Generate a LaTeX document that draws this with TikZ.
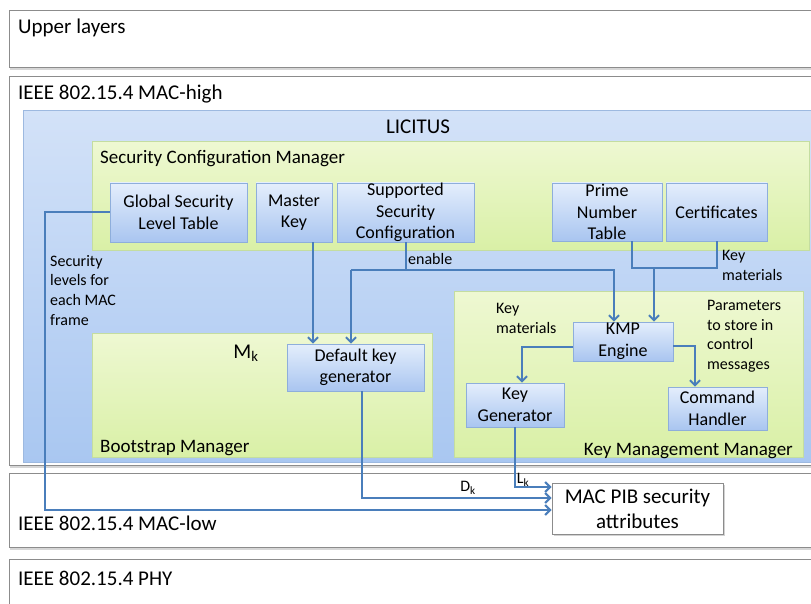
\documentclass[tikz,border=0pt]{standalone}
\usepackage{fontspec}
\setmainfont{Carlito}
\usetikzlibrary{arrows.meta,shadows}
\definecolor{lineblue}{HTML}{4A7EBB}
\definecolor{layerline}{HTML}{8C8C8C}
\definecolor{licTop}{HTML}{D3E2F8}
\definecolor{licBot}{HTML}{A9C7F1}
\definecolor{licLine}{HTML}{9DB9E0}
\definecolor{grnTop}{HTML}{EEF8D2}
\definecolor{grnBot}{HTML}{D9F0A6}
\definecolor{grnLine}{HTML}{C4DDA0}
\definecolor{boxTop}{HTML}{E4EEFC}
\definecolor{boxBot}{HTML}{A9C5F0}
\definecolor{boxLine}{HTML}{8EAEDB}
\newcommand{\fLayer}{\fontsize{21}{25}\selectfont}
\newcommand{\fSect}{\fontsize{19}{23}\selectfont}
\newcommand{\fBox}{\fontsize{18}{21.5}\selectfont}
\newcommand{\fLab}{\fontsize{16}{19.7}\selectfont}
\newcommand{\fPib}{\fontsize{21}{25}\selectfont}
\tikzset{
  layerbox/.style={draw=layerline, line width=1.2pt, fill=white, anchor=north west,
    drop shadow={shadow xshift=0pt, shadow yshift=-2.5pt, opacity=0.35, fill=black!45}},
  licbox/.style={draw=licLine, line width=0.8pt, top color=licTop, bottom color=licBot, anchor=north west},
  grnbox/.style={draw=grnLine, line width=0.8pt, top color=grnTop, bottom color=grnBot, anchor=north west},
  ibox/.style={draw=boxLine, line width=0.8pt, top color=boxTop, bottom color=boxBot,
    align=center, font=\fBox, inner sep=0pt,
    drop shadow={shadow xshift=1.2pt, shadow yshift=-1.2pt, opacity=0.3, fill=black!50}},
  pibbox/.style={draw=layerline, line width=1pt, fill=white, align=center, font=\fPib, inner sep=0pt,
    drop shadow={shadow xshift=1.5pt, shadow yshift=-1.5pt, opacity=0.35, fill=black!50}},
  conn/.style={draw=lineblue, line width=2pt},
  arr/.style={conn, -{Straight Barb[length=5pt,width=10pt,line width=2pt]}},
  lab/.style={font=\fLab, align=left, anchor=north west, inner sep=0pt},
  ttl/.style={anchor=west, inner sep=0pt},
}
\begin{document}
\begin{tikzpicture}[x=1pt,y=-1pt]
\useasboundingbox (0,0) rectangle (811,604);
\clip (0,0) rectangle (811,604);
\fill[white] (0,0) rectangle (811,604);

% layers
\node[layerbox, minimum width=810pt, minimum height=57pt] (upper) at (9,10) {};
\node[layerbox, minimum width=810pt, minimum height=389pt] (machigh) at (9,76) {};
\node[layerbox, minimum width=810pt, minimum height=74pt] (maclow) at (9,473) {};
\node[layerbox, minimum width=810pt, minimum height=60pt] (phy) at (9,559) {};
\node[ttl, font=\fLayer] (tupper) at (18,28) {Upper layers};
\node[ttl, font=\fLayer] (tmachigh) at (18,94) {IEEE 802.15.4 MAC-high};
\node[ttl, font=\fLayer] (tmaclow) at (18,523) {IEEE 802.15.4 MAC-low};
\node[ttl, font=\fLayer] (tphy) at (18,578) {IEEE 802.15.4 PHY};

% LICITUS
\node[licbox, minimum width=800pt, minimum height=352pt] (licitus) at (23,110) {};
\node[font=\fLayer, inner sep=0pt] (tlic) at (418,127) {LICITUS};

% green managers
\node[grnbox, minimum width=717pt, minimum height=109pt] (scm) at (92,141) {};
\node[ttl, font=\fSect] (tscm) at (100,159) {Security Configuration Manager};
\node[grnbox, minimum width=340pt, minimum height=124pt] (boot) at (92,333) {};
\node[ttl, font=\fSect] (tboot) at (100,448) {Bootstrap Manager};
\node[grnbox, minimum width=349pt, minimum height=166pt] (kmm) at (454,291) {};
\node[anchor=east, inner sep=0pt, font=\fSect] (tkmm) at (793,451) {Key Management Manager};

% inner boxes
\node[ibox, minimum width=137pt, minimum height=59pt] (gslt) at (178.5,212.5) {Global Security\\Level Table};
\node[ibox, minimum width=76pt, minimum height=59pt] (mkey) at (294,212.5) {Master\\Key};
\node[ibox, minimum width=137pt, minimum height=59pt] (ssc) at (405.5,212.5) {Supported\\Security\\Configuration};
\node[ibox, minimum width=110pt, minimum height=58pt] (pnt) at (607,212) {Prime\\Number\\Table};
\node[ibox, minimum width=101pt, minimum height=58pt] (cert) at (716.5,212) {Certificates};
\node[ibox, minimum width=137pt, minimum height=47pt] (dkg) at (355.5,367.5) {Default key\\generator};
\node[ibox, minimum width=100pt, minimum height=39pt] (kmp) at (623,341.5) {KMP\\Engine};
\node[ibox, minimum width=98pt, minimum height=44pt] (kgen) at (515,405) {Key\\Generator};
\node[ibox, minimum width=99pt, minimum height=43pt] (cmd) at (717.5,408.5) {Command\\Handler};
\node[pibbox, minimum width=171pt, minimum height=51pt] (pib) at (637.5,508.5) {MAC PIB security\\attributes};

\node[font=\fontsize{21}{25}\selectfont, inner sep=0pt] (mk) at (246,353) {M\textsubscript{k}};

% labels
\node[lab] (lsec) at (50,255) {Security\\levels for\\each MAC\\frame};
\node[lab, anchor=west] (len) at (408,259) {enable};
\node[lab] (lkm1) at (722,250) {Key\\materials};
\node[lab] (lkm2) at (496,303) {Key\\materials};
\node[lab] (lpar) at (707,300) {Parameters\\to store in\\control\\messages};
\node[font=\fLab, inner sep=0pt] (ldk) at (468,488) {D\textsubscript{k}};
\node[font=\fLab, inner sep=0pt] (llk) at (523,480) {L\textsubscript{k}};

% connectors
\coordinate (gsltc) at (45,212.5);
\draw[arr] (gslt.west) -- (gsltc) |- ([yshift=-1.5pt]pib.west);
\draw[arr] ([xshift=19pt]mkey.south) -- ([xshift=19pt]mkey.south |- dkg.north);
\coordinate (enL) at (351,270);
\coordinate (enR) at (614,270);
\draw[conn] (ssc.south) -- (ssc.south |- enL);
\draw[arr] (enL) -- (enR) -- (enR |- kmp.north);
\draw[arr] (enL) -- (enL |- dkg.north);
\coordinate (kmj) at (654,268);
\draw[conn] ([xshift=25pt]pnt.south) |- (cert.south |- kmj) -- (cert.south);
\draw[arr] (kmj) -- (kmj |- kmp.north);
\draw[arr] ([yshift=-5.5pt]kmp.west) -| ([xshift=7pt]kgen.north);
\draw[arr] ([yshift=-4.5pt]kmp.east) -| ([xshift=-22.5pt]cmd.north);
\draw[arr] ([xshift=6.5pt]dkg.south) |- ([yshift=10.5pt]pib.west);
\draw[arr] (kgen.south) |- ([yshift=21.5pt]pib.west);
\end{tikzpicture}
\end{document}
